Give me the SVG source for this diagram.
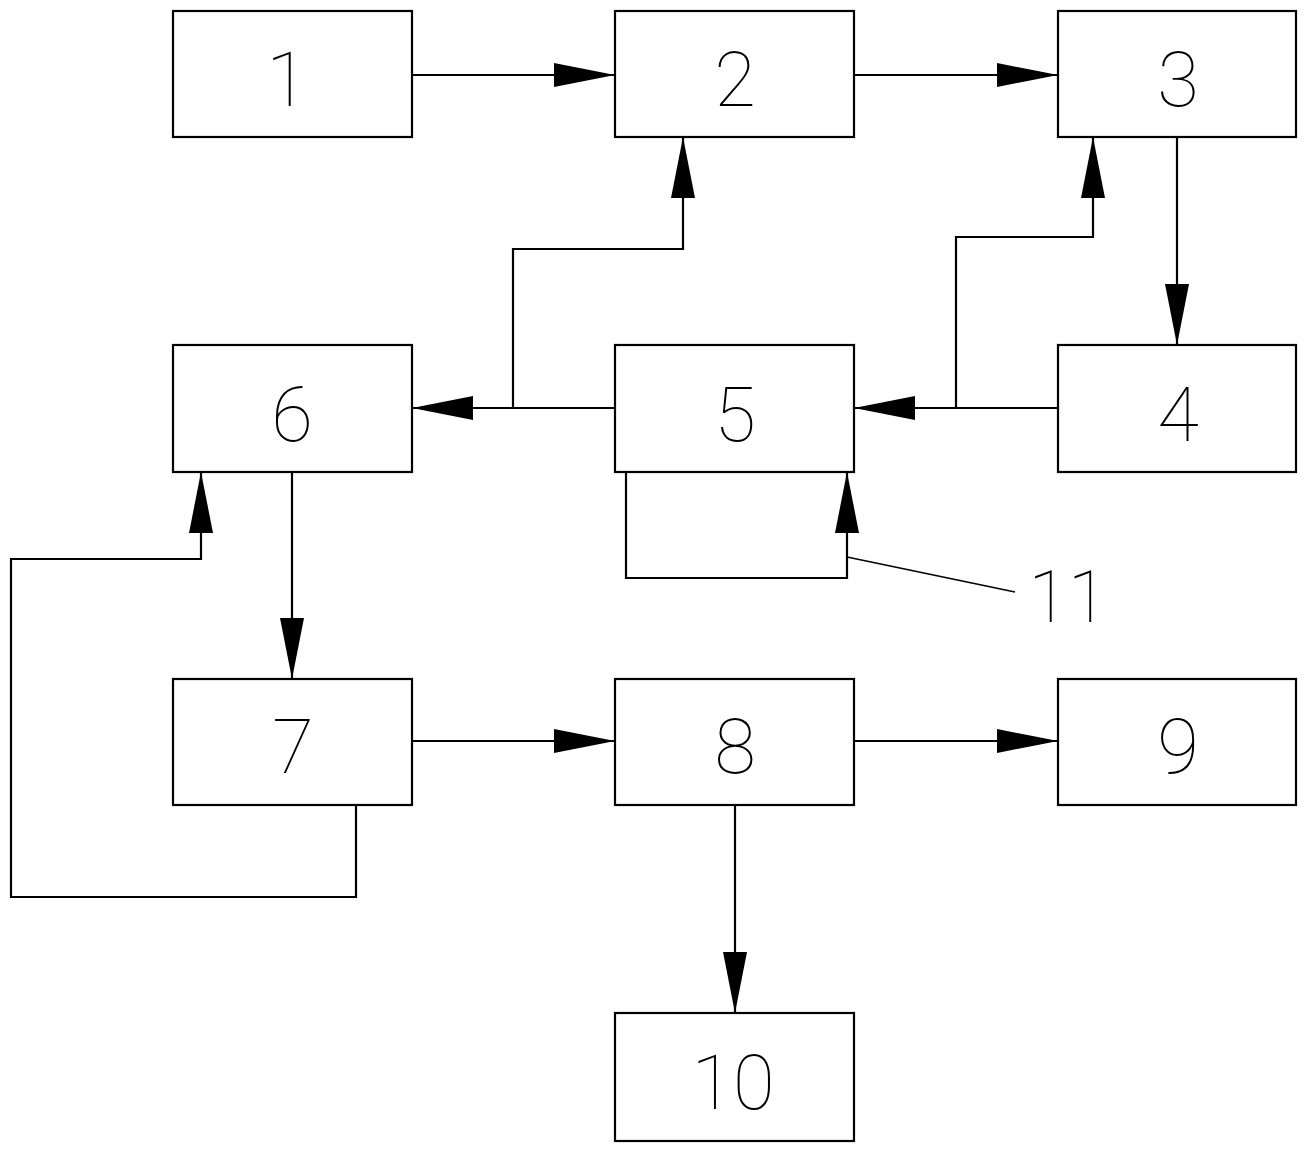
<svg xmlns="http://www.w3.org/2000/svg" width="1310" height="1150" viewBox="0 0 1310 1150">
<style>
.box{fill:#fff;stroke:#000;stroke-width:2.2}
.ln{fill:none;stroke:#000;stroke-width:2.2}
.lbl{font-family:Roboto,"Liberation Sans",sans-serif;font-weight:100;font-size:76px;fill:#000;text-anchor:middle}
</style>
<defs>
<marker id="ah" markerUnits="userSpaceOnUse" markerWidth="62" markerHeight="26" viewBox="0 -13 62 26" refX="61" refY="0" orient="auto">
<path d="M0,-12 L61,0 L0,12 z" fill="#000"/>
</marker>
</defs>
<rect width="1310" height="1150" fill="#fff"/>
<g id="connectors">
<path class="ln" d="M412,75 H615" marker-end="url(#ah)"/>
<path class="ln" d="M854,75 H1058" marker-end="url(#ah)"/>
<path class="ln" d="M1177,137 V345" marker-end="url(#ah)"/>
<path class="ln" d="M1058,408 H854" marker-end="url(#ah)"/>
<path class="ln" d="M956,408 V237 H1093 V137" marker-end="url(#ah)"/>
<path class="ln" d="M615,408 H412" marker-end="url(#ah)"/>
<path class="ln" d="M513,408 V249 H683 V137" marker-end="url(#ah)"/>
<path class="ln" d="M626,472 V578 H847 V472" marker-end="url(#ah)"/>
<path class="ln" d="M847,557 L1015,592" style="stroke-width:1.6"/>
<path class="ln" d="M292,472 V679" marker-end="url(#ah)"/>
<path class="ln" d="M356,805 V897 H11 V559 H201 V472" marker-end="url(#ah)"/>
<path class="ln" d="M412,741 H615" marker-end="url(#ah)"/>
<path class="ln" d="M854,741 H1058" marker-end="url(#ah)"/>
<path class="ln" d="M735,805 V1013" marker-end="url(#ah)"/>
</g>
<g id="n1"><rect class="box" x="173" y="11" width="239" height="126"/><text class="lbl" x="287" y="106">1</text></g>
<g id="n2"><rect class="box" x="615" y="11" width="239" height="126"/><text class="lbl" x="735" y="106">2</text></g>
<g id="n3"><rect class="box" x="1058" y="11" width="238" height="126"/><text class="lbl" x="1178" y="106">3</text></g>
<g id="n6"><rect class="box" x="173" y="345" width="239" height="127"/><text class="lbl" x="292" y="441">6</text></g>
<g id="n5"><rect class="box" x="615" y="345" width="239" height="127"/><text class="lbl" x="735" y="441">5</text></g>
<g id="n4"><rect class="box" x="1058" y="345" width="238" height="127"/><text class="lbl" x="1178" y="441">4</text></g>
<g id="n7"><rect class="box" x="173" y="679" width="239" height="126"/><text class="lbl" x="293" y="773">7</text></g>
<g id="n8"><rect class="box" x="615" y="679" width="239" height="126"/><text class="lbl" x="735" y="773">8</text></g>
<g id="n9"><rect class="box" x="1058" y="679" width="238" height="126"/><text class="lbl" x="1178" y="773">9</text></g>
<g id="n10"><rect class="box" x="615" y="1013" width="239" height="128"/><text class="lbl" x="733" y="1109">10</text></g>
<g id="n11"><text class="lbl" x="1068" y="622" style="font-size:72px">11</text></g>
</svg>
